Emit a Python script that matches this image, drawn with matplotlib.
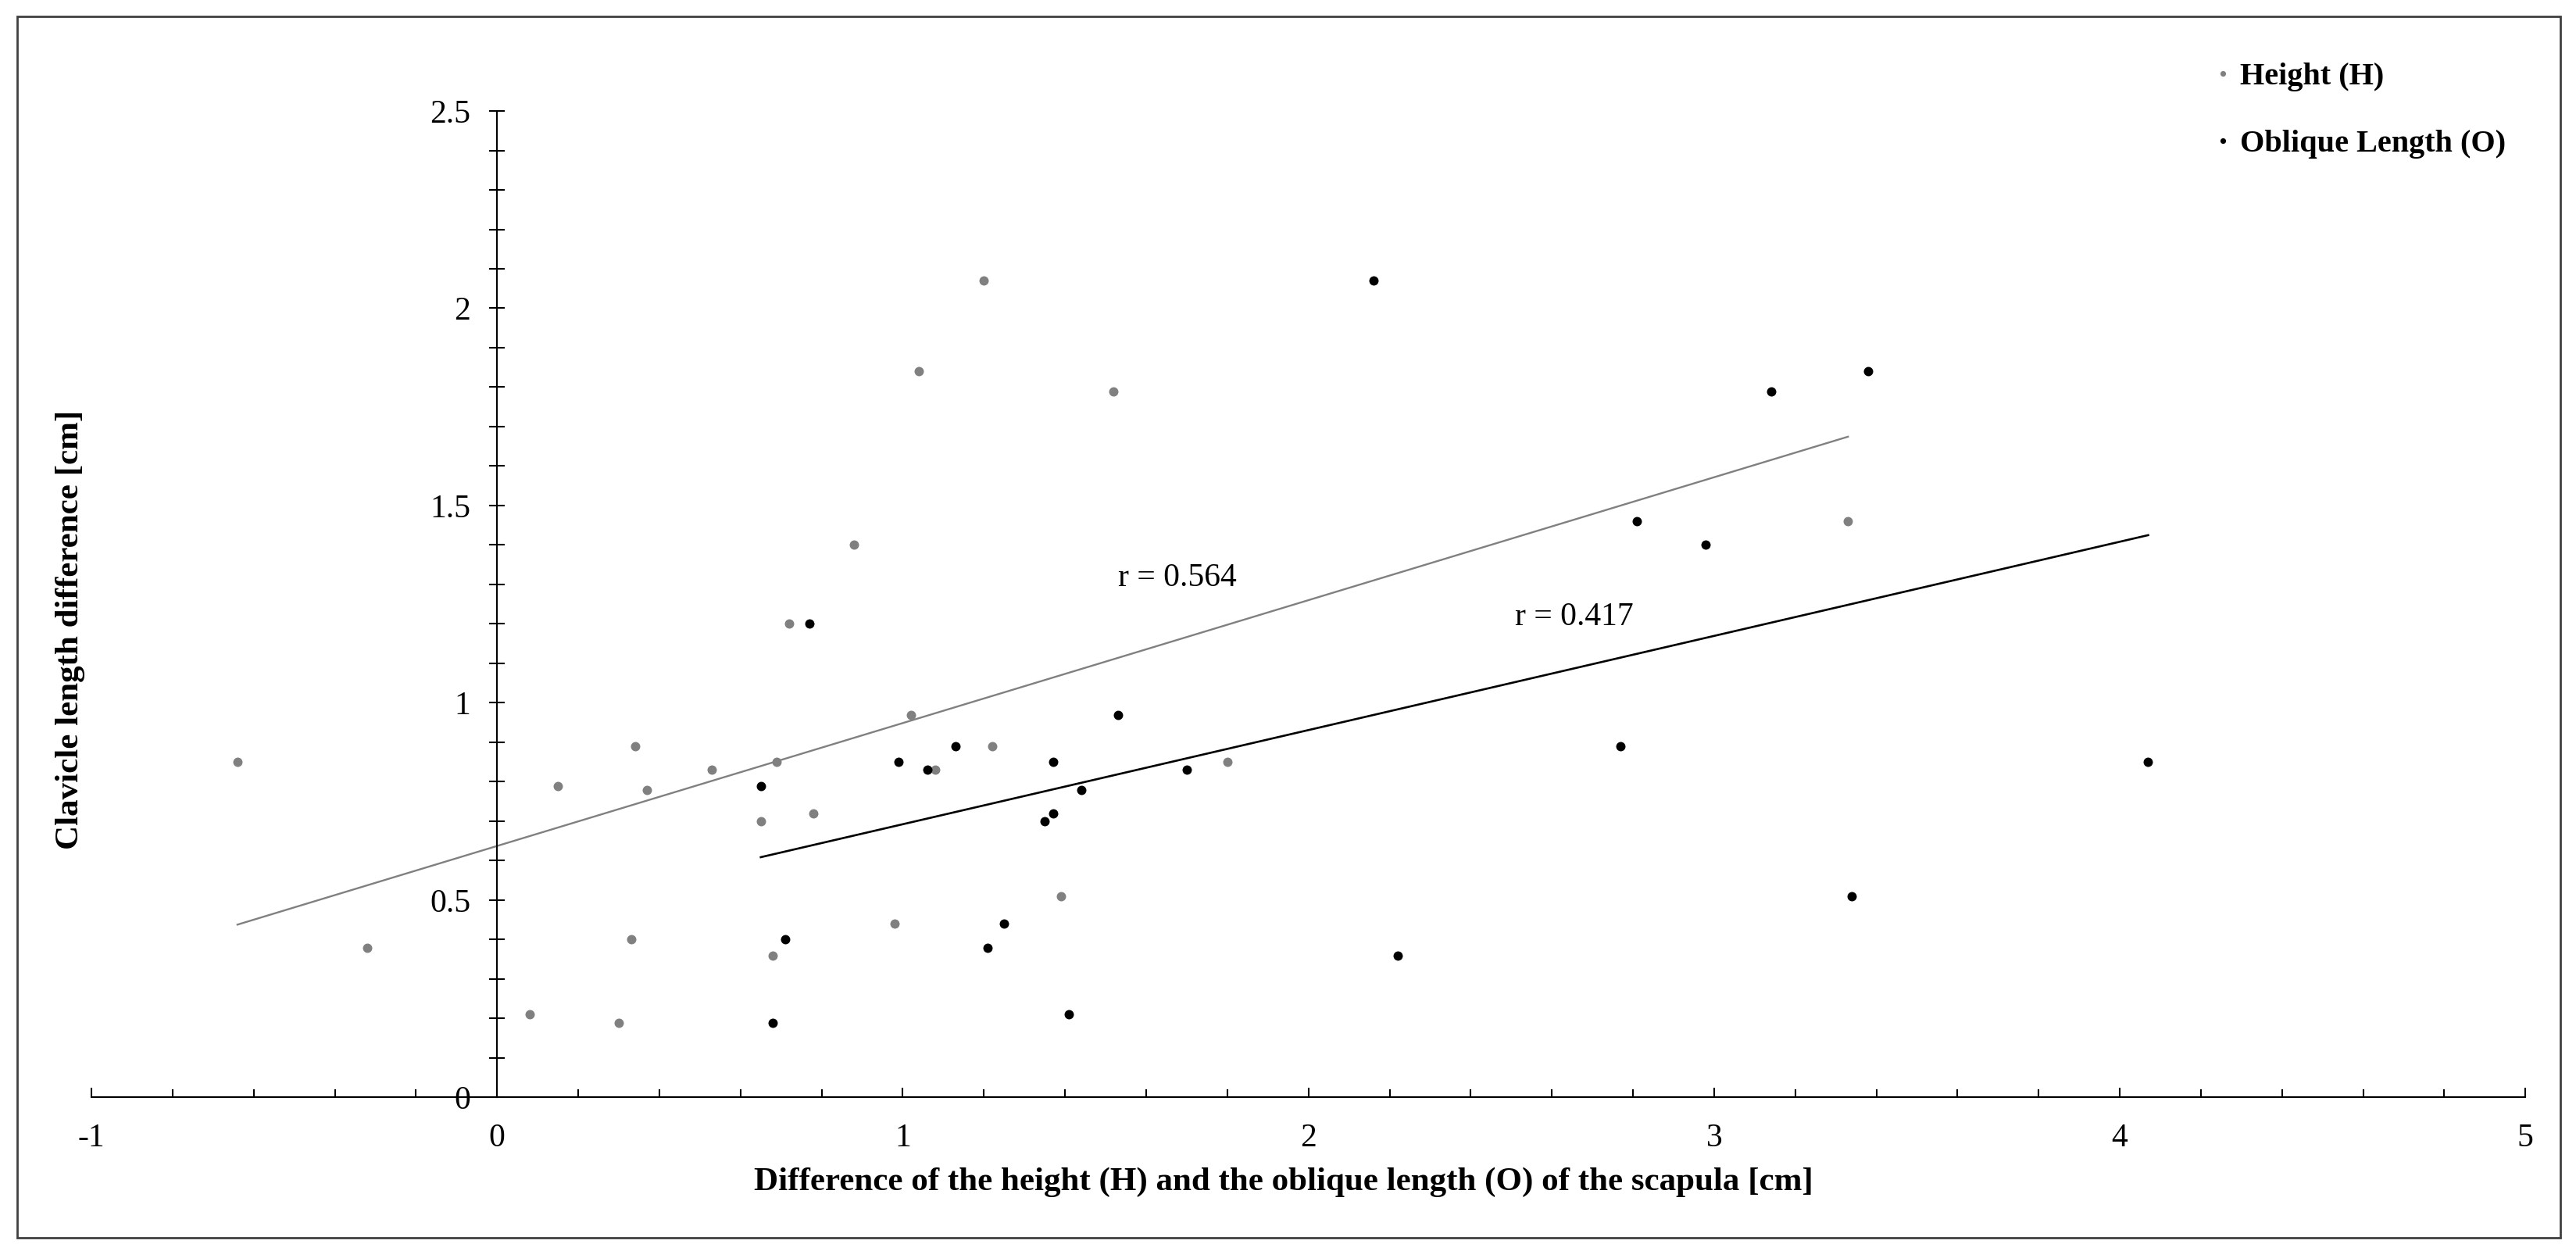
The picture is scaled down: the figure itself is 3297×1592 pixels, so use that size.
import numpy as np
import matplotlib
matplotlib.use("Agg")
import matplotlib.pyplot as plt
from matplotlib.patches import Rectangle
from matplotlib.ticker import MultipleLocator

# Height (H) series
height_x = [-0.64, -0.32, 0.08, 0.15, 0.30, 0.33, 0.34, 0.37, 0.53, 0.65, 0.68, 0.69, 0.72,
            0.78, 0.88, 0.98, 1.02, 1.04, 1.08, 1.20, 1.22, 1.39, 1.52, 1.80, 3.33]
height_y = [0.85, 0.38, 0.21, 0.79, 0.19, 0.40, 0.89, 0.78, 0.83, 0.70, 0.36, 0.85, 1.20,
            0.72, 1.40, 0.44, 0.97, 1.84, 0.83, 2.07, 0.89, 0.51, 1.79, 0.85, 1.46]

# Oblique Length (O) series
oblique_x = [0.65, 0.68, 0.71, 0.77, 0.99, 1.06, 1.13, 1.21, 1.25, 1.35, 1.37, 1.37, 1.41,
             1.44, 1.53, 1.70, 2.16, 2.22, 2.77, 2.81, 2.98, 3.14, 3.34, 3.38, 4.07]
oblique_y = [0.79, 0.19, 0.40, 1.20, 0.85, 0.83, 0.89, 0.38, 0.44, 0.70, 0.72, 0.85, 0.21,
             0.78, 0.97, 0.83, 2.07, 0.36, 0.89, 1.46, 1.40, 1.79, 0.51, 1.84, 0.85]

r_labels = ["r = 0.564", "r = 0.417"]

GRAY = "#808080"
plt.rcParams["font.family"] = ["Liberation Serif", "DejaVu Serif"]
FS_TICK = 30
FS_LABEL = 31

fig = plt.figure(figsize=(32.98, 15.92), dpi=100)
ax = fig.add_axes([0.03548, 0.1178, 0.9446, 0.793])

ax.plot(height_x, height_y, "o", color=GRAY, ms=8.6, mec="none", label="Height (H)", zorder=3)
ax.plot(oblique_x, oblique_y, "o", color="black", ms=8.6, mec="none", label="Oblique Length (O)", zorder=3)

# linear trendlines over each series' range
for xs, ys, col, lw in [(height_x, height_y, GRAY, 1.7), (oblique_x, oblique_y, "black", 1.9)]:
    k, b = np.polyfit(xs, ys, 1)
    xx = np.array([min(xs), max(xs)])
    ax.plot(xx, k * xx + b, color=col, lw=lw, zorder=2)

ax.text(1.53, 1.316, r_labels[0], fontsize=FS_TICK, va="center", ha="left")
ax.text(2.51, 1.217, r_labels[1], fontsize=FS_TICK, va="center", ha="left")

ax.set_xlim(-1, 5)
ax.set_ylim(0, 2.5)
ax.spines["left"].set_position(("data", 0))
ax.spines["top"].set_visible(False)
ax.spines["right"].set_visible(False)
for s in ("left", "bottom"):
    ax.spines[s].set_linewidth(1.5)

ax.xaxis.set_minor_locator(MultipleLocator(0.2))
ax.yaxis.set_minor_locator(MultipleLocator(0.1))
ax.set_xticks(np.arange(-1, 6, 1))
ax.set_xticklabels([str(v) for v in range(-1, 6)])
ax.set_yticks([0, 0.5, 1, 1.5, 2, 2.5])
ax.set_yticklabels(["0", "0.5", "1", "1.5", "2", "2.5"])

ax.tick_params(axis="x", which="major", direction="in", length=9, width=1.5, pad=24, labelsize=FS_TICK)
ax.tick_params(axis="x", which="minor", direction="in", length=7, width=1.5)
ax.tick_params(axis="y", which="major", direction="inout", length=15, width=1.5, pad=17, labelsize=FS_TICK)
ax.tick_params(axis="y", which="minor", direction="inout", length=15, width=1.5)

fig.text(1643 / 3298, 1 - 1513 / 1592, "Difference of the height (H) and the oblique length (O) of the scapula [cm]",
         fontsize=FS_LABEL, fontweight="bold", ha="center", va="center")
fig.text(90 / 3298, 1 - 806 / 1592, "Clavicle length difference [cm]",
         fontsize=FS_LABEL, fontweight="bold", ha="center", va="center", rotation=90)

fig.legend(loc="upper left", bbox_to_anchor=(2837 / 3298, 1 - 80 / 1592), frameon=False,
           prop={"size": 29, "weight": "bold"}, markerscale=0.6, handlelength=0.4,
           handletextpad=0.35, labelspacing=1.2, borderpad=0, borderaxespad=0)

fig.patches.append(Rectangle((22 / 3298, 1 - 1584 / 1592), (3277 - 22) / 3298, (1584 - 21) / 1592,
                             transform=fig.transFigure, fill=False, edgecolor="#404040", lw=2))

fig.savefig("out.png", dpi=100)
